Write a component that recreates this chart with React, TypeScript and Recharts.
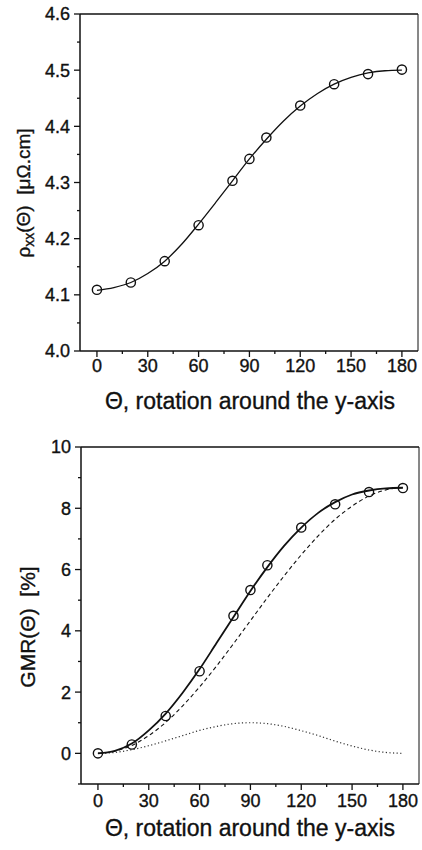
import React from 'react';
import { ComposedChart, Line, Scatter, XAxis, YAxis, ReferenceLine } from 'recharts';

// measured points (deg)
const ANGLES = [0, 20, 40, 60, 80, 90, 100, 120, 140, 160, 180];
const RHO_MEAS = [4.109, 4.122, 4.16, 4.224, 4.303, 4.342, 4.38, 4.437, 4.475, 4.493, 4.501];
const GMR_MEAS = [0, 0.29, 1.22, 2.68, 4.49, 5.33, 6.14, 7.37, 8.13, 8.53, 8.66];

// fitted curves, read every 10 deg
const FIT_ANGLES = [0, 10, 20, 30, 40, 50, 60, 70, 80, 90, 100, 110, 120, 130, 140, 150, 160, 170, 180];
const RHO_FIT = [4.108, 4.113, 4.122, 4.138, 4.16, 4.19, 4.226, 4.264, 4.303, 4.342, 4.377, 4.409, 4.436, 4.458, 4.475, 4.487, 4.495, 4.499, 4.5];
const GMR_FIT = [0, 0.08, 0.32, 0.75, 1.3, 1.98, 2.75, 3.6, 4.45, 5.3, 6.08, 6.78, 7.37, 7.85, 8.2, 8.45, 8.58, 8.65, 8.67];
const GMR_DASH = [0, 0.07, 0.26, 0.58, 1.01, 1.55, 2.17, 2.85, 3.58, 4.33, 5.08, 5.8, 6.48, 7.1, 7.64, 8.07, 8.4, 8.6, 8.67];
const GMR_DOT = [0, 0.03, 0.12, 0.25, 0.41, 0.58, 0.75, 0.88, 0.97, 1.0, 0.97, 0.88, 0.74, 0.58, 0.4, 0.24, 0.11, 0.03, 0];

// ticks
const X_TICKS = [0, 15, 30, 45, 60, 75, 90, 105, 120, 135, 150, 165, 180];
const RHO_TICKS = [4.0, 4.05, 4.1, 4.15, 4.2, 4.25, 4.3, 4.35, 4.4, 4.45, 4.5, 4.55, 4.6];
const GMR_TICKS = [-1, 0, 1, 2, 3, 4, 5, 6, 7, 8, 9, 10];

const X_TITLE = 'Θ, rotation around the y-axis';

const X_DOMAIN = [-10, 189.5];
const INK = '#111';
const FONT = '"Liberation Sans", Arial, Helvetica, sans-serif';

const zip = (xs: number[], ys: number[]) => xs.map((x, i) => ({ x, y: ys[i] }));

const rhoPts = zip(ANGLES, RHO_MEAS);
const rhoFit = zip(FIT_ANGLES, RHO_FIT);
const gmrPts = zip(ANGLES, GMR_MEAS);
const gmrFit = zip(FIT_ANGLES, GMR_FIT);
const gmrDash = zip(FIT_ANGLES, GMR_DASH);
const gmrDot = zip(FIT_ANGLES, GMR_DOT);

const textStyle = { fontFamily: FONT, fill: INK, stroke: INK, strokeWidth: 0.35 };

const makeXTick = (labelGap: number) => (props: any) => {
  const { x, y, payload } = props;
  const v = payload.value;
  const major = v % 30 === 0;
  return (
    <g>
      <line x1={x} y1={y} x2={x} y2={y + (major ? 6 : 3)} stroke={INK} strokeWidth={1.3} />
      {major && (
        <text x={x} y={y + labelGap} textAnchor="middle" fontSize={18} style={textStyle}>
          {v}
        </text>
      )}
    </g>
  );
};

const makeYTick = (isMajor: (v: number) => boolean, fmt: (v: number) => string) => (props: any) => {
  const { x, y, payload } = props;
  const v = payload.value;
  const major = isMajor(v);
  return (
    <g>
      <line x1={x} y1={y} x2={x - (major ? 6 : 3)} y2={y} stroke={INK} strokeWidth={1.3} />
      {major && (
        <text x={x - 10} y={y} dy="0.36em" textAnchor="end" fontSize={18} style={textStyle}>
          {fmt(v)}
        </text>
      )}
    </g>
  );
};

const Circle = (props: any) => (
  <circle cx={props.cx} cy={props.cy} r={4.6} fill="none" stroke={INK} strokeWidth={1.4} />
);

const RhoChart = () => (
  <ComposedChart width={422} height={425} margin={{ top: 14, right: 4, bottom: 0, left: 0 }}>
    <XAxis
      type="number"
      dataKey="x"
      domain={X_DOMAIN}
      allowDataOverflow
      ticks={X_TICKS}
      interval={0}
      height={74}
      tickSize={0}
      tickMargin={0}
      tickLine={false}
      axisLine={{ stroke: INK, strokeWidth: 1.5 }}
      tick={makeXTick(21)}
    />
    <YAxis
      type="number"
      dataKey="y"
      domain={[4.0, 4.6]}
      allowDataOverflow
      ticks={RHO_TICKS}
      interval={0}
      width={80}
      tickSize={0}
      tickMargin={0}
      tickLine={false}
      axisLine={{ stroke: INK, strokeWidth: 1.5 }}
      tick={makeYTick((v) => Math.round(v * 100) % 10 === 0, (v) => v.toFixed(1))}
    />
    <ReferenceLine y={4.6} stroke={INK} strokeWidth={1.5} />
    <ReferenceLine x={189.5} stroke={INK} strokeWidth={1} />
    <Line data={rhoFit} dataKey="y" type="monotone" stroke={INK} strokeWidth={1.3} dot={false} isAnimationActive={false} />
    <Scatter data={rhoPts} dataKey="y" shape={Circle} isAnimationActive={false} />
  </ComposedChart>
);

const GmrChart = () => (
  <ComposedChart width={422} height={425} margin={{ top: 22, right: 3, bottom: 0, left: 0 }}>
    <XAxis
      type="number"
      dataKey="x"
      domain={X_DOMAIN}
      allowDataOverflow
      ticks={X_TICKS}
      interval={0}
      height={66}
      tickSize={0}
      tickMargin={0}
      tickLine={false}
      axisLine={{ stroke: INK, strokeWidth: 1.5 }}
      tick={makeXTick(23)}
    />
    <YAxis
      type="number"
      dataKey="y"
      domain={[-1, 10]}
      allowDataOverflow
      ticks={GMR_TICKS}
      interval={0}
      width={81}
      tickSize={0}
      tickMargin={0}
      tickLine={false}
      axisLine={{ stroke: INK, strokeWidth: 1.5 }}
      tick={makeYTick((v) => v >= 0 && v % 2 === 0, (v) => String(v))}
    />
    <ReferenceLine y={10} stroke={INK} strokeWidth={1.5} />
    <ReferenceLine x={189.5} stroke={INK} strokeWidth={1} />
    <Line data={gmrDot} dataKey="y" type="monotone" stroke="#333" strokeWidth={1.2} strokeDasharray="1.2 2.4" dot={false} isAnimationActive={false} />
    <Line data={gmrDash} dataKey="y" type="monotone" stroke={INK} strokeWidth={1.1} strokeDasharray="4 3" dot={false} isAnimationActive={false} />
    <Line data={gmrFit} dataKey="y" type="monotone" stroke={INK} strokeWidth={1.8} dot={false} isAnimationActive={false} />
    <Scatter data={gmrPts} dataKey="y" shape={Circle} isAnimationActive={false} />
  </ComposedChart>
);

// axis titles drawn over both panels
const Titles = () => (
  <svg width={422} height={850} style={{ position: 'absolute', left: 0, top: 0, pointerEvents: 'none' }}>
    <text x={250} y={409} textAnchor="middle" fontSize={23} style={textStyle}>{X_TITLE}</text>
    <text x={250} y={836} textAnchor="middle" fontSize={23} style={textStyle}>{X_TITLE}</text>
    <text x={30} y={193} transform="rotate(-90, 30, 193)" textAnchor="middle" fontSize={19} style={textStyle}>
      ρ<tspan fontSize={14} dy={4}>xx</tspan>
      <tspan dy={-4}>(Θ){'\u00a0\u00a0'}[μΩ.cm]</tspan>
    </text>
    <text x={35} y={627} transform="rotate(-90, 35, 627)" textAnchor="middle" fontSize={21} style={textStyle}>
      GMR(Θ){'\u00a0\u00a0'}[%]
    </text>
  </svg>
);

export default function App() {
  return (
    <div style={{ position: 'relative', width: 422, height: 850, background: '#fff' }}>
      <style>{'body{margin:0;background:#fff}'}</style>
      <RhoChart />
      <GmrChart />
      <Titles />
    </div>
  );
}
